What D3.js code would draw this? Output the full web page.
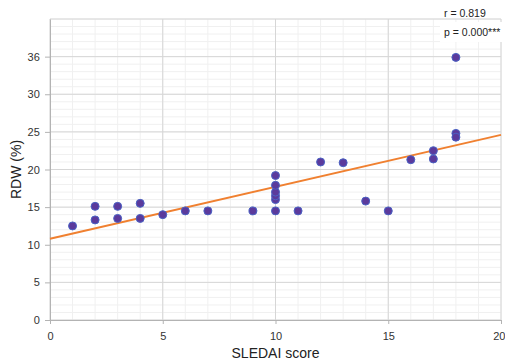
<!DOCTYPE html>
<html>
<head>
<meta charset="utf-8">
<script src="https://cdn.jsdelivr.net/npm/d3@7"></script>
<style>
  body { margin: 0; background: #fff; }
  svg { display: block; font-family: "Liberation Sans Narrow", "Arial Narrow", "Liberation Sans", sans-serif; }
</style>
</head>
<body>
<div id="chart"></div>
<script>
// SLEDAI score vs RDW (%)
const sledai = [1, 2, 2, 3, 3, 4, 4, 5, 6, 7, 9, 10, 10, 10, 10, 10, 10, 11, 12, 13, 14, 15, 16, 17, 17, 18, 18, 18];
const rdw = [12.5, 15.1, 13.3, 15.1, 13.5, 15.5, 13.5, 14.0, 14.5, 14.5, 14.5, 14.5, 16.0, 16.5, 17.0, 17.9, 19.2, 14.5, 21.0, 20.9, 15.8, 14.5, 21.3, 22.5, 21.4, 34.9, 24.8, 24.3];
const fitX = [0, 20];
const fitY = [10.8, 24.6];
const xTicks = [0, 5, 10, 15, 20];
const yTicks = [0, 5, 10, 15, 20, 25, 30, 35];
const yTickLabels = ["0", "5", "10", "15", "20", "25", "30", "36"];
const statLines = ["r = 0.819", "p = 0.000***"];

const width = 505, height = 364;
const margin = { top: 19, right: 4, bottom: 44, left: 50 };

const svg = d3.select("#chart").append("svg")
    .attr("width", width)
    .attr("height", height);

const x = d3.scaleLinear().domain([0, 20]).range([margin.left, width - margin.right]);
const y = d3.scaleLinear().domain([0, 40]).range([height - margin.bottom, margin.top]);

// minor grid
svg.append("g").selectAll("line")
    .data(d3.range(0, 21))
    .enter().append("line")
    .attr("x1", d => x(d)).attr("x2", d => x(d))
    .attr("y1", y(0)).attr("y2", y(40))
    .attr("stroke", "#f0f0f0");
svg.append("g").selectAll("line")
    .data(d3.range(0, 41))
    .enter().append("line")
    .attr("x1", x(0)).attr("x2", x(20))
    .attr("y1", d => y(d)).attr("y2", d => y(d))
    .attr("stroke", "#f0f0f0");

// major grid
svg.append("g").selectAll("line")
    .data(xTicks)
    .enter().append("line")
    .attr("x1", d => x(d)).attr("x2", d => x(d))
    .attr("y1", y(0)).attr("y2", y(40))
    .attr("stroke", "#d6d6d6");
svg.append("g").selectAll("line")
    .data(yTicks.concat([40]))
    .enter().append("line")
    .attr("x1", x(0)).attr("x2", x(20))
    .attr("y1", d => y(d)).attr("y2", d => y(d))
    .attr("stroke", "#d6d6d6");

// axes
const xAxis = svg.append("g")
    .attr("transform", `translate(0,${y(0)})`)
    .call(d3.axisBottom(x).tickValues(xTicks).tickSize(4).tickSizeOuter(0));
const yAxis = svg.append("g")
    .attr("transform", `translate(${x(0)},0)`)
    .call(d3.axisLeft(y).tickValues(yTicks).tickFormat((d, i) => yTickLabels[i]).tickSize(5).tickSizeOuter(0));

[xAxis, yAxis].forEach(a => {
    a.select(".domain").attr("stroke", "#b3b3b3");
    a.selectAll(".tick line").attr("stroke", "#b3b3b3");
    a.selectAll(".tick text")
        .attr("fill", "#333")
        .style("font-size", "11px");
});
xAxis.selectAll(".tick text").attr("dy", "1.2em");
// keep the last label inside the window
xAxis.selectAll(".tick text").filter(d => d === 20)
    .attr("text-anchor", "end").attr("x", 4);
yAxis.selectAll(".tick text").attr("dx", "-0.2em");

// regression line
svg.append("line")
    .attr("x1", x(fitX[0])).attr("y1", y(fitY[0]))
    .attr("x2", x(fitX[1])).attr("y2", y(fitY[1]))
    .attr("stroke", "#f08030")
    .attr("stroke-width", 2);

// points
svg.append("g").selectAll("circle")
    .data(sledai.map((d, i) => [d, rdw[i]]))
    .enter().append("circle")
    .attr("cx", d => x(d[0]))
    .attr("cy", d => y(d[1]))
    .attr("r", 4)
    .attr("fill", "#5b3a9c")
    .attr("stroke", "#4a62c4")
    .attr("stroke-width", 1);

// axis titles
svg.append("text")
    .attr("x", (x(0) + x(20)) / 2)
    .attr("y", 358)
    .attr("text-anchor", "middle")
    .style("font-family", "Liberation Sans, Arial, sans-serif")
    .style("font-size", "14px")
    .attr("fill", "#222")
    .text("SLEDAI score");

svg.append("text")
    .attr("transform", `translate(21,${(y(0) + y(40)) / 2}) rotate(-90)`)
    .attr("text-anchor", "middle")
    .style("font-family", "Liberation Sans, Arial, sans-serif")
    .style("font-size", "14px")
    .attr("fill", "#222")
    .text("RDW (%)");

// stats box
svg.append("rect")
    .attr("x", 440).attr("y", 22)
    .attr("width", 65).attr("height", 20)
    .attr("fill", "#fff");
svg.selectAll(".stat")
    .data(statLines)
    .enter().append("text")
    .attr("class", "stat")
    .attr("x", 444)
    .attr("y", (d, i) => 17 + i * 19)
    .style("font-family", "Liberation Sans, Arial, sans-serif")
    .style("font-size", "10.5px")
    .attr("fill", "#222")
    .text(d => d);
</script>
</body>
</html>
